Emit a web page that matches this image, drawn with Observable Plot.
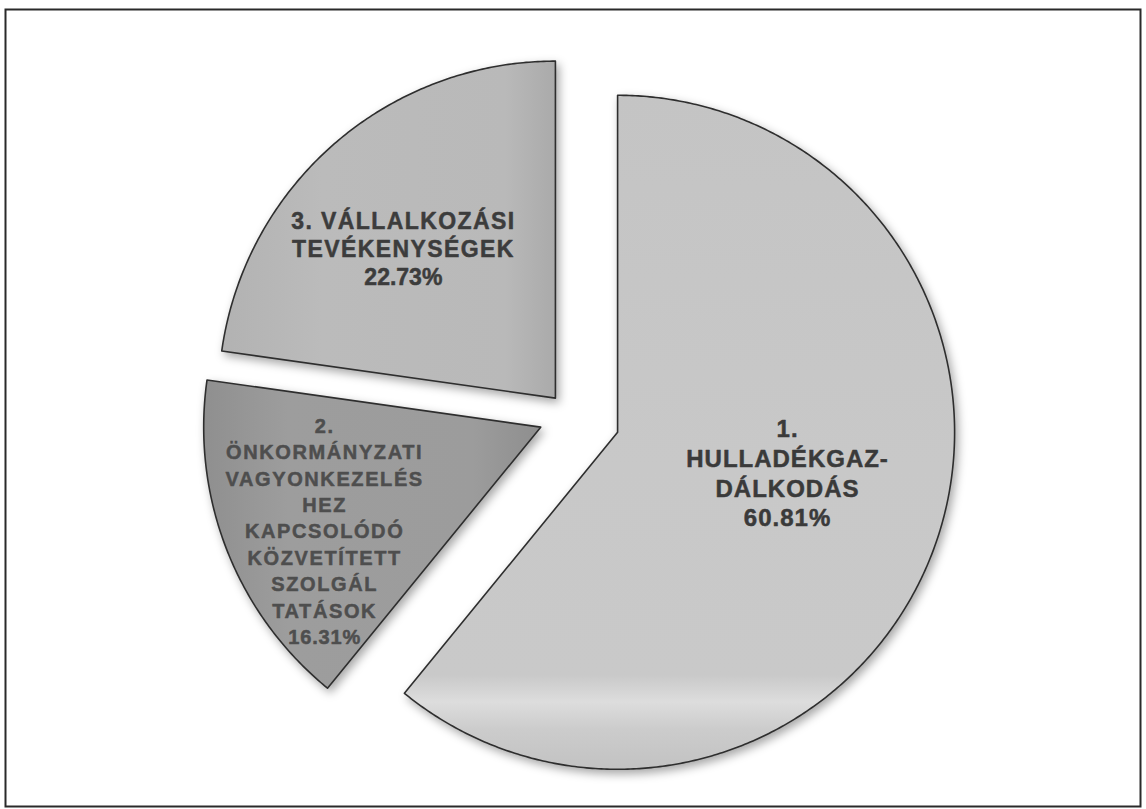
<!DOCTYPE html>
<html><head><meta charset="utf-8">
<script src="https://cdn.jsdelivr.net/npm/d3@7"></script>
<script src="https://cdn.jsdelivr.net/npm/@observablehq/plot@0.6"></script>
<style>
html,body{margin:0;padding:0;background:#fff;}
#chart svg{display:block;}
g[aria-label="line"] path{filter: drop-shadow(3px 4px 5px rgba(0,0,0,0.35));}
</style></head><body><div id="chart"></div>
<script>
// ---- data ----
const categories = [
  "1. HULLADÉKGAZDÁLKODÁS",
  "2. ÖNKORMÁNYZATI VAGYONKEZELÉSHEZ KAPCSOLÓDÓ KÖZVETÍTETT SZOLGÁLTATÁSOK",
  "3. VÁLLALKOZÁSI TEVÉKENYSÉGEK"
];
const shares = [60.81, 16.31, 22.73];
const labelLines = [
  ["1.", "HULLADÉKGAZ-", "DÁLKODÁS"],
  ["2.", "ÖNKORMÁNYZATI", "VAGYONKEZELÉS", "HEZ", "KAPCSOLÓDÓ", "KÖZVETÍTETT", "SZOLGÁL", "TATÁSOK"],
  ["3. VÁLLALKOZÁSI", "TEVÉKENYSÉGEK"]
];

// ---- layout / style ----
const W = 1146, H = 809;
const center = [570, 415];
const radius = 337;
const explode = [50, 32, 23];
const labelRadius = [0.518, 0.71, 0.634];
const labelTurn = [-6.4, -4.1, -4.4]; // degrees
const fontSizes = [24, 20, 23];
const lineHeights = [1.24, 1.32, 1.22];
const textColors = ["#3a3a3a", "#4e4e4e", "#3c3c3c"];
const letterSpacingText = ["1px", "1.6px", "1.4px"];
const letterSpacingPct = ["1px", "0.8px", "0px"];

const pie = d3.pie().sort(null).startAngle(0).endAngle(2 * Math.PI).value(d => d)(shares);
const pt = (a, r, o) => [o[0] + r * Math.sin(a), o[1] - r * Math.cos(a)];
const outline = [];
const labels = [];
pie.forEach((p, i) => {
  const mid = (p.startAngle + p.endAngle) / 2;
  const v = pt(mid, explode[i], center);
  const n = Math.max(2, Math.ceil((p.endAngle - p.startAngle) / (Math.PI / 360)));
  outline.push({slice: i, x: v[0], y: v[1]});
  for (let k = 0; k <= n; k++) {
    const a = p.startAngle + (p.endAngle - p.startAngle) * k / n;
    const q = pt(a, radius, v);
    outline.push({slice: i, x: q[0], y: q[1]});
  }
  outline.push({slice: i, x: v[0], y: v[1]});
  const l = pt(mid + labelTurn[i] * Math.PI / 180, radius * labelRadius[i], v);
  labels.push({slice: i, category: categories[i], x: l[0], y: l[1],
    text: [...labelLines[i], shares[i].toFixed(2) + "%"].join("\n")});
});

const fills = ["url(#g0)", "url(#g1)", "url(#g2)"];

const chart = Plot.plot({
  width: W, height: H,
  margin: 0,
  x: {domain: [0, W], axis: null},
  y: {domain: [H, 0], axis: null},
  marks: [
    Plot.frame({stroke: "#2a2a2a", strokeWidth: 2, insetLeft: 5, insetTop: 9, insetRight: 6, insetBottom: 3}),
    Plot.line(outline, {x: "x", y: "y", z: "slice", fill: d => fills[d.slice], stroke: "#2e2e2e", strokeWidth: 1.6, strokeLinejoin: "round"}),
    ...labels.map(l => Plot.text([l], {x: "x", y: "y", text: "text", fontSize: fontSizes[l.slice],
      fontWeight: "bold", fontFamily: "Liberation Sans, Arial, sans-serif", fill: textColors[l.slice],
      lineHeight: lineHeights[l.slice], stroke: textColors[l.slice], strokeWidth: 0.5}))
  ]
});

// gradients
const defs = d3.select(chart).insert("defs", ":first-child");
function grad(id, x2, y2, stops) {
  const g = defs.append("linearGradient").attr("id", id).attr("x1", 0).attr("y1", 0).attr("x2", x2).attr("y2", y2);
  stops.forEach(([o, c]) => g.append("stop").attr("offset", o).attr("stop-color", c));
}
grad("g0", 0, 1, [[0, "#c4c4c4"], [0.55, "#c8c8c8"], [0.86, "#c9c9c9"], [0.9, "#dddddd"], [0.94, "#cccccc"], [1, "#c2c2c2"]]);
grad("g1", 1, 0, [[0, "#8f8f8f"], [0.25, "#9d9d9d"], [0.8, "#9c9c9c"], [1, "#8e8e8e"]]);
grad("g2", 1, 0, [[0, "#b2b2b2"], [0.3, "#bbbbbb"], [0.85, "#b9b9b9"], [1, "#aaaaaa"]]);

d3.select(chart).selectAll('g[aria-label="text"]').each(function(_, i) {
  const g = d3.select(this);
  g.style("letter-spacing", letterSpacingText[i]);
  const spans = g.selectAll("tspan").nodes();
  if (spans.length) d3.select(spans[spans.length - 1]).style("letter-spacing", letterSpacingPct[i]);
});

document.getElementById("chart").append(chart);
</script>
</body></html>
